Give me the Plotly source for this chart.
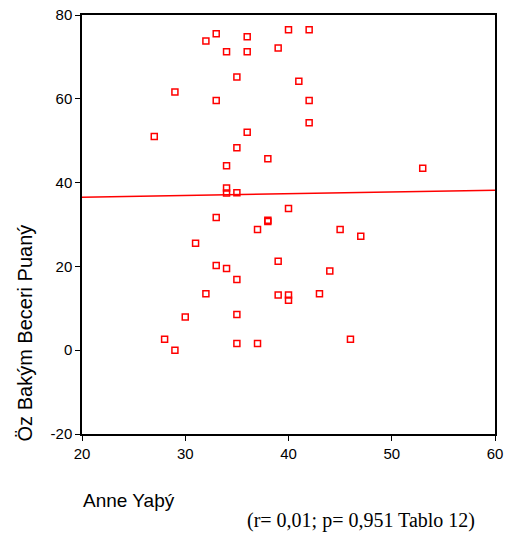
import plotly.graph_objects as go

# Anne yaşı (x) and Öz Bakım Beceri Puanı (y)
anne_yasi = [32, 33, 36, 40, 42, 34, 36, 39, 35, 41, 29, 33, 42, 42, 36, 27, 35,
             38, 34, 53, 34, 34, 35, 40, 33, 38, 38, 37, 45, 47, 31, 39, 33, 34,
             44, 35, 32, 39, 40, 40, 43, 30, 35, 28, 29, 35, 37, 46]
oz_bakim = [73.8, 75.5, 74.8, 76.5, 76.5, 71.2, 71.2, 72.1, 65.2, 64.2, 61.6, 59.6,
            59.6, 54.3, 52.0, 51.0, 48.3, 45.7, 44.0, 43.4, 38.7, 37.5, 37.6, 33.8,
            31.7, 31.0, 30.7, 28.8, 28.8, 27.2, 25.5, 21.2, 20.2, 19.5, 18.9, 16.9,
            13.5, 13.2, 13.2, 11.9, 13.5, 7.9, 8.5, 2.6, 0.0, 1.6, 1.6, 2.6]

# Fit line end points as shown in the reference
fit_x = [20, 60]
fit_y = [36.5, 38.2]

x_ticks = [20, 30, 40, 50, 60]
y_ticks = [-20, 0, 20, 40, 60, 80]
y_tick_labels = ["-20", "0", "20", "40", "60", "80"]

fig = go.Figure()
fig.add_trace(go.Scatter(
    x=fit_x, y=fit_y, mode="lines",
    line=dict(color="#ff0000", width=1.5), showlegend=False, hoverinfo="skip"))
fig.add_trace(go.Scatter(
    x=anne_yasi, y=oz_bakim, mode="markers",
    marker=dict(symbol="square-open", size=6, color="#ff0000",
                line=dict(color="#ff0000", width=1.5)),
    showlegend=False))

axis_common = dict(showgrid=False, zeroline=False, showline=True, mirror=True,
                   linecolor="black", linewidth=1.5, ticks="outside", ticklen=5,
                   tickwidth=1, tickcolor="black", ticklabeloverflow="allow",
                   tickfont=dict(family="Liberation Sans, Arial", size=15, color="black"))

fig.update_layout(
    width=509, height=544,
    margin=dict(l=82, r=14, t=6, b=110),
    paper_bgcolor="white", plot_bgcolor="white",
    xaxis=dict(range=[20, 60], tickvals=x_ticks, **axis_common),
    yaxis=dict(range=[-20, 80], tickvals=y_ticks, ticktext=y_tick_labels, **axis_common),
    annotations=[
        dict(text="Öz Bakým Beceri Puaný", textangle=-90, xref="paper", yref="paper",
             x=-0.138, y=0.24, xanchor="center", yanchor="middle", showarrow=False,
             font=dict(family="Liberation Sans, Arial", size=20, color="black")),
        dict(text="Anne Yaþý", xref="paper", yref="paper",
             x=-0.003, y=-0.158, xanchor="left", yanchor="middle", showarrow=False,
             font=dict(family="Liberation Sans, Arial", size=19, color="black")),
        dict(text="(r= 0,01; p= 0,951 Tablo 12)", xref="paper", yref="paper",
             x=0.676, y=-0.206, xanchor="center", yanchor="middle", showarrow=False,
             font=dict(family="Liberation Serif, Times New Roman", size=20, color="black")),
    ],
)

fig.write_html("out.html", config={"displayModeBar": False},
               post_script="document.body.style.margin='0px';document.body.style.overflow='hidden';")
